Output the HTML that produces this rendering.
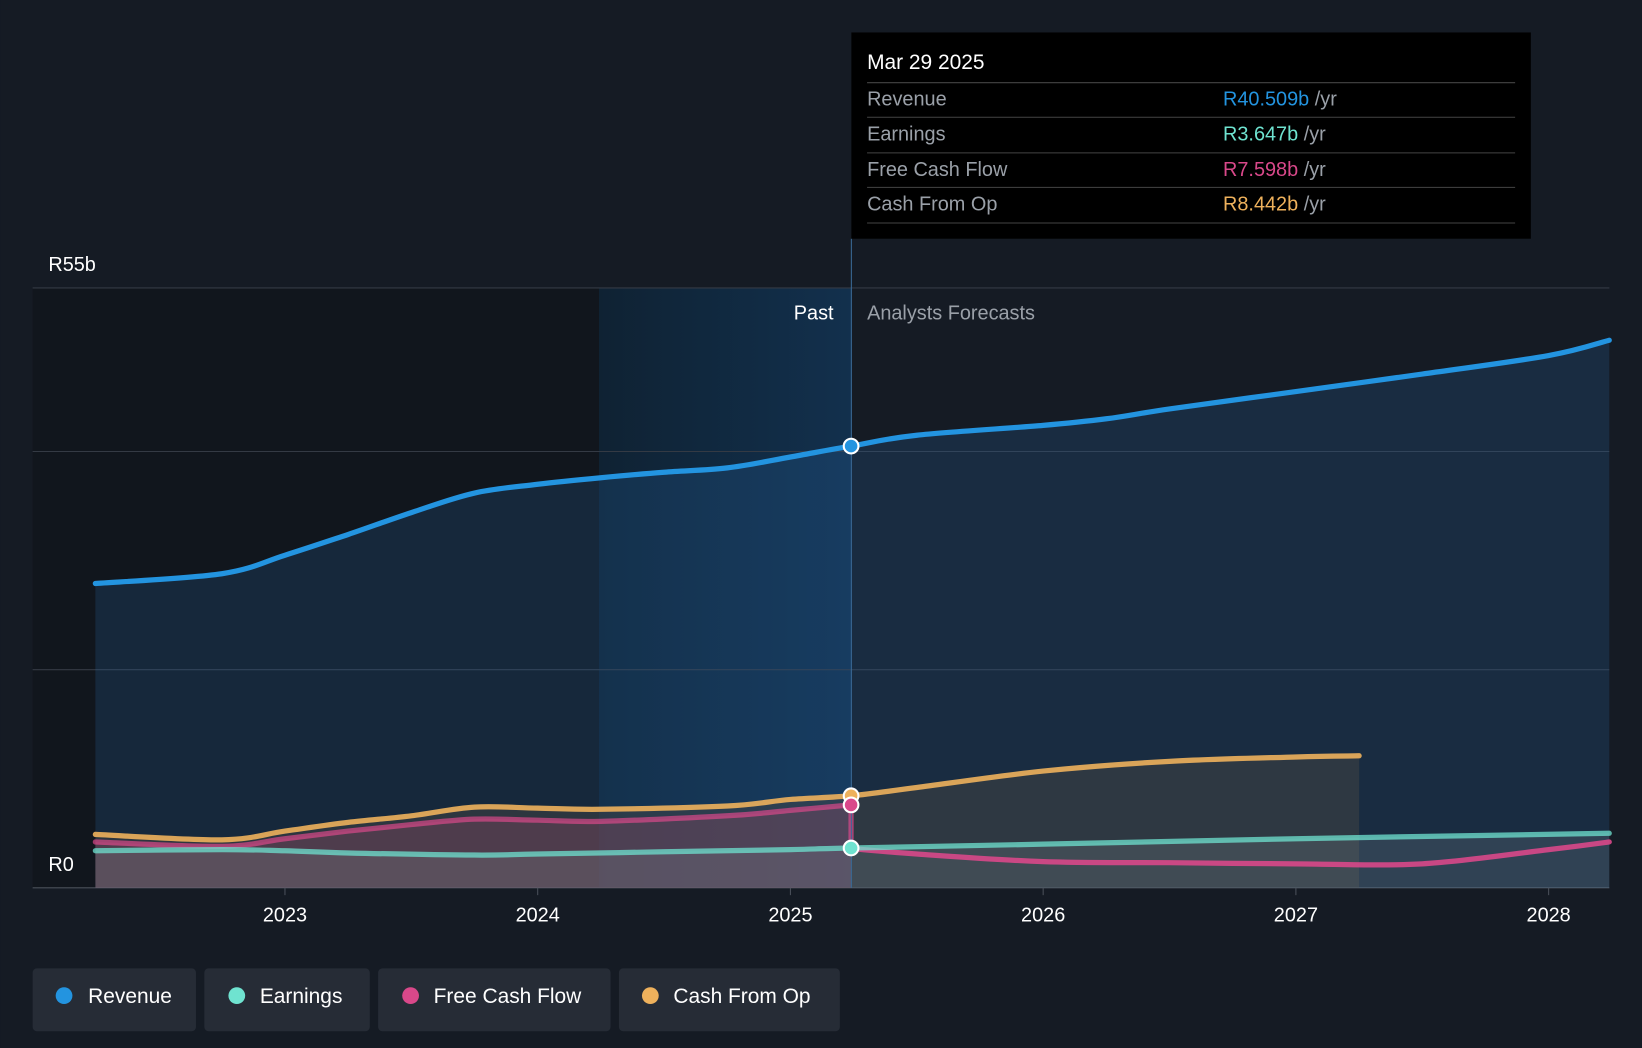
<!DOCTYPE html>
<html><head><meta charset="utf-8"><style>
html,body{margin:0;padding:0;background:#151b24;}
svg{display:block;font-family:"Liberation Sans",Roboto,sans-serif;}
</style></head><body>
<svg id="chart" width="1642" height="1048" viewBox="0 0 1568 1001" xmlns="http://www.w3.org/2000/svg">
<defs>
<linearGradient id="hl" x1="0" x2="1" y1="0" y2="0"><stop offset="0" stop-color="#0f2233"/><stop offset="1" stop-color="#12304d"/></linearGradient>
</defs>
<rect width="1568" height="1001" fill="#151b24"/>
<rect x="31" y="275" width="541" height="573" fill="#11161d"/>
<rect x="572" y="275" width="241" height="573" fill="url(#hl)"/>
<g id="grid"></g>
<g id="areas"></g>
<g id="lines"></g>
<line x1="813" y1="228" x2="813" y2="848" stroke="#3a6a96" stroke-width="1"/>
<text x="796" y="305" fill="#fff" font-size="19" text-anchor="end">Past</text>
<text x="828" y="305" fill="#9aa0a8" font-size="19">Analysts Forecasts</text>
<text x="46" y="259" fill="#fff" font-size="19">R55b</text>
<text x="46" y="832" fill="#fff" font-size="19">R0</text>
<g id="xt"></g>
<g id="dots"></g>
<g>
<rect x="813" y="31" width="649" height="197" fill="#000"/>
<text x="828" y="66" fill="#fff" font-size="20">Mar 29 2025</text>
<g font-size="19">
<line x1="828" y1="79" x2="1447" y2="79" stroke="#444"/>
<text x="828" y="101" fill="#9aa0a8">Revenue</text><text x="1168" y="101" fill="#2394e0">R40.509b <tspan fill="#9aa0a8">/yr</tspan></text>
<line x1="828" y1="112" x2="1447" y2="112" stroke="#444"/>
<text x="828" y="134" fill="#9aa0a8">Earnings</text><text x="1168" y="134" fill="#6fe3d0">R3.647b <tspan fill="#9aa0a8">/yr</tspan></text>
<line x1="828" y1="146" x2="1447" y2="146" stroke="#444"/>
<text x="828" y="168" fill="#9aa0a8">Free Cash Flow</text><text x="1168" y="168" fill="#d9488a">R7.598b <tspan fill="#9aa0a8">/yr</tspan></text>
<line x1="828" y1="179" x2="1447" y2="179" stroke="#444"/>
<text x="828" y="201" fill="#9aa0a8">Cash From Op</text><text x="1168" y="201" fill="#eeb15c">R8.442b <tspan fill="#9aa0a8">/yr</tspan></text>
<line x1="828" y1="213" x2="1447" y2="213" stroke="#444"/>
</g></g>
<g font-size="20" fill="#fff">
<g><rect x="31" y="925" width="156" height="60" rx="4" fill="#262c36"/><circle cx="61" cy="951" r="8" fill="#2394e0"/><text x="84" y="958">Revenue</text></g>
<g><rect x="195" y="925" width="158" height="60" rx="4" fill="#262c36"/><circle cx="226" cy="951" r="8" fill="#6fe3d0"/><text x="248" y="958">Earnings</text></g>
<g><rect x="361" y="925" width="222" height="60" rx="4" fill="#262c36"/><circle cx="392" cy="951" r="8" fill="#d9488a"/><text x="414" y="958">Free Cash Flow</text></g>
<g><rect x="591" y="925" width="211" height="60" rx="4" fill="#262c36"/><circle cx="621" cy="951" r="8" fill="#eeb15c"/><text x="643" y="958">Cash From Op</text></g>
</g>
</svg>
<script>
const revX=[2022.25,2022.75,2023.0,2023.25,2023.5,2023.75,2024.0,2024.25,2024.5,2024.75,2025.0,2025.24,2025.5,2026.0,2026.25,2026.5,2027.0,2027.5,2028.0,2028.24];
const revV=[27.9,28.8,30.5,32.4,34.4,36.2,37.0,37.6,38.1,38.5,39.5,40.5,41.5,42.4,43.0,43.9,45.5,47.1,48.8,50.2];
const earnX=[2022.25,2022.75,2023.0,2023.25,2023.75,2024.0,2024.5,2025.0,2025.24,2026.0,2027.0,2028.24];
const earnV=[3.4,3.5,3.4,3.2,3.0,3.1,3.3,3.5,3.65,4.0,4.5,5.0];
const fcfPastX=[2022.25,2022.75,2023.0,2023.25,2023.5,2023.75,2024.0,2024.25,2024.75,2025.0,2025.24];
const fcfPastV=[4.2,3.8,4.5,5.2,5.8,6.3,6.2,6.1,6.6,7.1,7.6];
const fcfFcX=[2025.24,2025.5,2026.0,2026.5,2027.0,2027.5,2028.0,2028.24];
const fcfFcV=[3.6,3.1,2.4,2.3,2.2,2.2,3.5,4.2];
const cfoX=[2022.25,2022.75,2023.0,2023.25,2023.5,2023.75,2024.0,2024.25,2024.75,2025.0,2025.24,2025.5,2026.0,2026.5,2027.0,2027.25];
const cfoV=[4.9,4.4,5.2,6.0,6.6,7.4,7.3,7.2,7.5,8.1,8.44,9.2,10.7,11.6,12.0,12.1];
const xTicks=[2023,2024,2025,2026,2027,2028];
const yGrid=[20,40,55];
const X=y=>272+(y-2023)*241.4;
const Y=v=>848-v*10.418;
const NS="http://www.w3.org/2000/svg";
function mk(tag,attrs,parent){const e=document.createElementNS(NS,tag);for(const k in attrs)e.setAttribute(k,attrs[k]);document.getElementById(parent).appendChild(e);return e;}
function smooth(xs,vs){const p=xs.map((x,i)=>[X(x),Y(vs[i])]);let d="M"+p[0][0].toFixed(1)+","+p[0][1].toFixed(1);
for(let i=0;i<p.length-1;i++){const p0=p[i-1]||p[i],p1=p[i],p2=p[i+1],p3=p[i+2]||p2;const t=1/6;
const c1=[p1[0]+(p2[0]-p0[0])*t,p1[1]+(p2[1]-p0[1])*t],c2=[p2[0]-(p3[0]-p1[0])*t,p2[1]-(p3[1]-p1[1])*t];
d+="C"+c1.map(v=>v.toFixed(1)).join(",")+" "+c2.map(v=>v.toFixed(1)).join(",")+" "+p2.map(v=>v.toFixed(1)).join(",");}return d;}
function area(xs,vs,fill,op,name){const d=smooth(xs,vs);const e=mk('path',{d:d+"L"+X(xs[xs.length-1])+",848L"+X(xs[0])+",848Z",fill:fill,'fill-opacity':op},'areas');

}
function line(xs,vs,col,name,op){const e=mk('path',{d:smooth(xs,vs),fill:"none",stroke:col,'stroke-width':5,'stroke-linejoin':'round','stroke-linecap':'round','stroke-opacity':op||1},'lines');

}
yGrid.forEach(v=>{const e=mk('line',{x1:31,x2:1537,y1:Y(v),y2:Y(v),stroke:'#343a44','stroke-width':1},'grid');

});
const ax=mk('line',{x1:31,x2:1537,y1:848,y2:848,stroke:'#4a505a','stroke-width':1},'grid');


area(revX,revV,'#2a6aa8',0.22,'revenue-area');
area(cfoX,cfoV,'#4a4844',0.45,'cash-from-op-area');
area(fcfPastX,fcfPastV,'#9a4c6a',0.3,'fcf-area');
area(earnX,earnV,'#8a9aa0',0.2,'earnings-area');
line(revX,revV,'#2394e0','revenue-line');
line(cfoX,cfoV,'#eeb15c','cash-from-op-line',0.9);
line(fcfPastX,fcfPastV,'#d9488a','fcf-past-line',0.7);
line(fcfFcX,fcfFcV,'#d9488a','fcf-forecast-line',0.9);
line([2025.24,2025.24],[7.6,3.6],'#d9488a','fcf-drop-line',0.7);
line(earnX,earnV,'#6fe3d0','earnings-line',0.75);
xTicks.forEach(t=>{const tk=mk('line',{x1:X(t),x2:X(t),y1:848,y2:855,stroke:'#4a505a'},'xt');


const e=mk('text',{x:X(t),y:880,fill:'#fff','font-size':19,'text-anchor':'middle'},'xt');e.textContent=t;

});
[[cfoX,cfoV,'#eeb15c'],[fcfPastX,fcfPastV,'#d9488a'],[earnX,earnV,'#6fe3d0'],[revX,revV,'#2394e0']].forEach(([xs,vs,c])=>{const i=xs.indexOf(2025.24);const d=mk('circle',{cx:X(2025.24),cy:Y(vs[i]),r:7,fill:c,stroke:'#fff','stroke-width':2},'dots');

});
</script>
</body></html>
